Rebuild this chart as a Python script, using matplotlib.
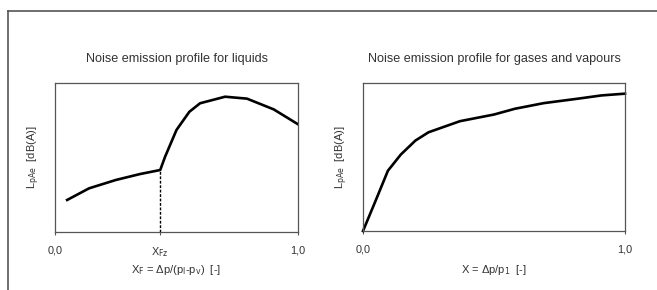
import matplotlib
matplotlib.use('Agg')
import matplotlib.pyplot as plt
from matplotlib.lines import Line2D

# dados
liq_x = [0.05, 0.14, 0.25, 0.35, 0.433, 0.453, 0.50, 0.553, 0.597, 0.70, 0.79, 0.90, 1.0]
liq_y = [0.215, 0.293, 0.349, 0.389, 0.416, 0.505, 0.685, 0.807, 0.864, 0.908, 0.895, 0.823, 0.723]
x_fz = 0.433

gas_x = [0.0, 0.048, 0.095, 0.144, 0.20, 0.25, 0.37, 0.50, 0.58, 0.69, 0.82, 0.91, 1.0]
gas_y = [0.0, 0.204, 0.407, 0.516, 0.611, 0.667, 0.742, 0.787, 0.826, 0.864, 0.894, 0.916, 0.928]

W, H = 657, 290
plt.rc('font', family='Liberation Sans', size=8)
cor_txt = '#333333'
cor_eixo = '#555555'

fig = plt.figure(figsize=(W / 100, H / 100), dpi=100)

# moldura externa (linha de cima e da esquerda)
fig.add_artist(Line2D([8 / W, 8 / W], [0, 1 - 11 / H], color=cor_eixo, lw=1.2))
fig.add_artist(Line2D([8 / W, 657 / W], [1 - 11 / H, 1 - 11 / H], color=cor_eixo, lw=1.2))


def eixo(x0, x1, y0, y1):
    return fig.add_axes([x0 / W, 1 - y1 / H, (x1 - x0) / W, (y1 - y0) / H])


def estilo(ax):
    ax.set_xlim(0, 1)
    ax.set_ylim(0, 1)
    ax.set_yticks([])
    for s in ax.spines.values():
        s.set_color(cor_eixo)
        s.set_linewidth(0.9)
    ax.tick_params(axis='x', direction='out', length=2.5, width=0.8, color=cor_eixo,
                   labelcolor=cor_txt, labelsize=7.8, pad=7)


# GRAFICO 1 - liquidos
ax1 = eixo(55, 298, 83, 232)
estilo(ax1)
ax1.plot(liq_x, liq_y, color='k', lw=1.9)
ax1.plot([x_fz, x_fz], [0, liq_y[liq_x.index(x_fz)]], color='k', lw=1, ls=(0, (2, 1.2)))
ax1.set_xticks([0, x_fz, 1])
ax1.set_xticklabels(['0,0', r'X$_{\rm Fz}$', '1,0'])
ax1.set_title('Noise emission profile for liquids', color=cor_txt, fontsize=9.1, pad=15)
ax1.set_xlabel(r'X$_{\rm F}$ = Δp/(p$_{\rm l}$-p$_{\rm v}$)  [-]', color=cor_txt, fontsize=8, labelpad=3)
ax1.set_ylabel(r'L$_{\rm pAe}$  [dB(A)]', color=cor_txt, fontsize=8, labelpad=9)

# GRAFICO 2 - gases
ax2 = eixo(363, 625, 83, 231)
estilo(ax2)
ax2.plot(gas_x, gas_y, color='k', lw=1.9, clip_on=False)
ax2.set_xticks([0, 1])
ax2.set_xticklabels(['0,0', '1,0'])
ax2.set_title('Noise emission profile for gases and vapours', color=cor_txt, fontsize=9.1, pad=15)
ax2.set_xlabel(r'X = Δp/p$_{\rm 1}$  [-]', color=cor_txt, fontsize=8, labelpad=6)
ax2.set_ylabel(r'L$_{\rm pAe}$  [dB(A)]', color=cor_txt, fontsize=8, labelpad=9)

fig.savefig('out.png', dpi=100)
